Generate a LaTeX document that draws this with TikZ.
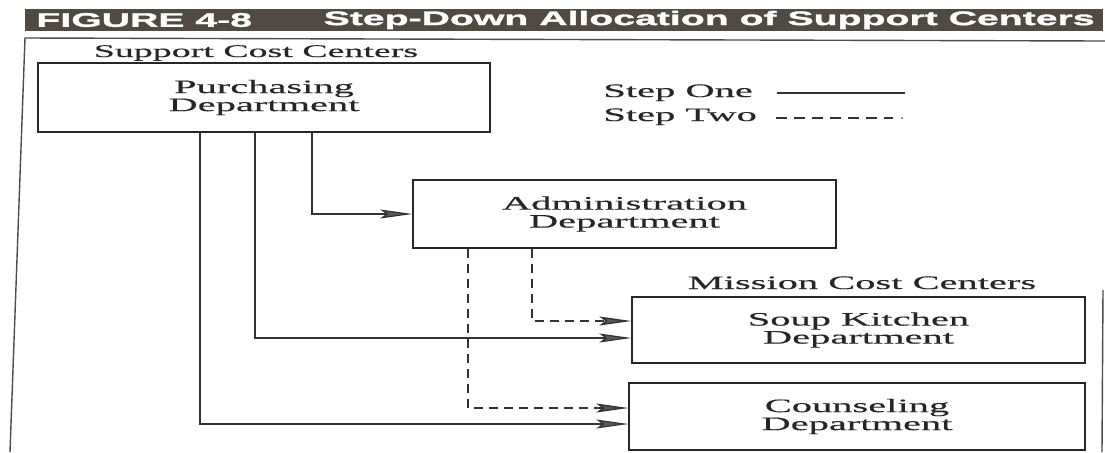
\documentclass[tikz,border=0pt]{standalone}
\usepackage{fontspec}
\setmainfont{Liberation Serif}
\newfontfamily\serifwide{Liberation Serif}[FakeStretch=2.13,FakeBold=0.4]
\newfontfamily\titlefont{Liberation Sans}[FakeStretch=2.0,FakeBold=1.6]
\usetikzlibrary{arrows.meta}
\definecolor{titlebg}{HTML}{514A42}
\begin{document}
\begin{tikzpicture}[x=0.5pt,y=-0.5pt,
  box/.style={draw=black!85, line width=0.7pt, inner sep=0pt,
    font=\serifwide\fontsize{9.5}{9}\selectfont, align=center, text=black!85},
  lbl/.style={inner sep=0pt, font=\serifwide\fontsize{9.5}{9}\selectfont, anchor=base, text=black!85},
  ttl/.style={inner sep=0pt, text=white, font=\titlefont\bfseries\fontsize{9.8}{10}\selectfont},
  solidarrow/.style={draw=black!80, line width=0.6pt,
    -{Stealth[length=16pt,width=4.5pt,inset=3pt,fill=black!65]}},
  dasharrow/.style={solidarrow, line width=0.75pt, dash pattern=on 4.5pt off 3pt},
  frameline/.style={draw=black!70, line width=0.7pt},
  legline/.style={draw=black!80, line width=0.6pt}]
\useasboundingbox (0,0) rectangle (1105,452);
% title bar
\fill[titlebg] (25,9) rectangle (1103,31);
\node[ttl, anchor=west] (fig) at (36,20) {FIGURE 4-8};
\node[ttl, anchor=east] (ttltext) at (1095,20) {Step-Down Allocation of Support Centers};
% frame
\draw[frameline] (1105,41) -- (25,38) -- (10,452);
\draw[frameline] (1103,290) -- (1102,452);
% labels
\node[lbl, font=\serifwide\fontsize{8.9}{8.5}\selectfont] (scc) at (256,57) {Support Cost Centers};
\node[lbl] (mcc) at (862,289) {Mission Cost Centers};
% boxes
\node[box, minimum width=226pt, minimum height=34.5pt] (purch) at (264,97.5) {Purchasing\\Department};
\node[box, minimum width=211.5pt, minimum height=34pt] (admin) at (624.5,214) {Administration\\Department};
\node[box, minimum width=226.5pt, minimum height=33pt] (soup) at (858.5,330) {Soup Kitchen\\Department};
\node[box, minimum width=228pt, minimum height=33.5pt] (couns) at (857,416.5) {Counseling\\Department};
% legend
\node[lbl, anchor=base west] (s1) at (603,97) {Step One};
\node[lbl, anchor=base west] (s2) at (603,121) {Step Two};
\coordinate (s1a) at (777,93);
\coordinate (s1b) at (905,93);
\coordinate (s2a) at (776,118);
\coordinate (s2b) at (893,118);
\coordinate (s2c) at (902,118);
\draw[legline] (s1a) -- (s1b);
\draw[legline, dash pattern=on 5.5pt off 3.5pt] (s2a) -- (s2b);
\fill[black!70] (s2c) circle (0.5pt);
% step one connectors
\draw[solidarrow] ([xshift=24pt]purch.south) |- (admin.west);
\draw[solidarrow] ([xshift=-4.5pt]purch.south) |- ([yshift=-4pt]soup.west);
\draw[solidarrow] ([xshift=-32pt]purch.south) |- ([yshift=-3.75pt]couns.west);
% step two connectors
\draw[dasharrow] ([xshift=-46.25pt]admin.south) |- ([yshift=4.5pt]soup.west);
\draw[dasharrow] ([xshift=-78.25pt]admin.south) |- ([yshift=4.25pt]couns.west);
\end{tikzpicture}
\end{document}
